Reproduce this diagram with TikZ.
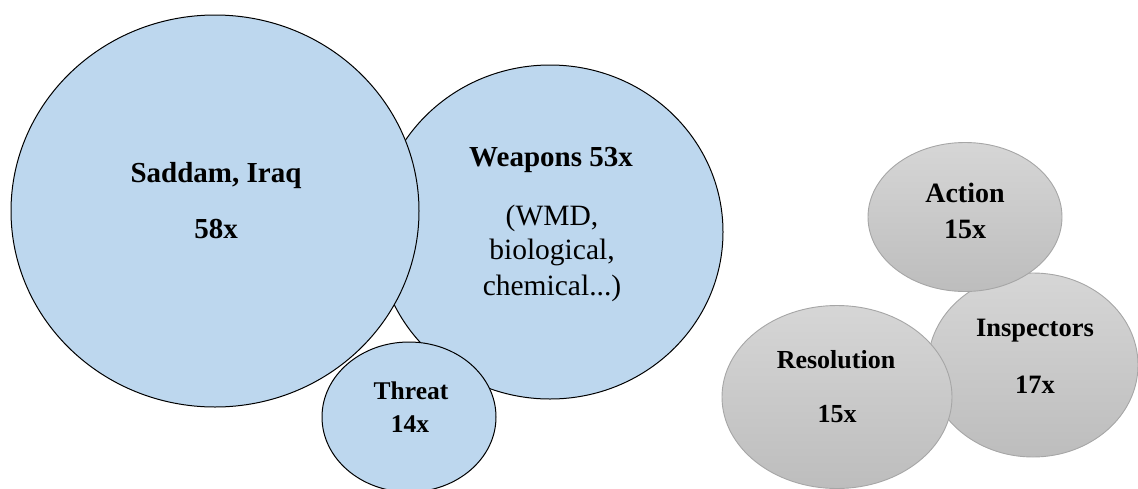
\documentclass[tikz,border=0pt]{standalone}
\usepackage{fontspec}
\setmainfont{Liberation Serif}
\usetikzlibrary{shapes.geometric}
\definecolor{bluefill}{HTML}{BDD7EE}
\definecolor{greytop}{HTML}{D6D6D6}
\definecolor{greybot}{HTML}{BDBDBD}
\definecolor{greyline}{HTML}{A6A6A6}
\tikzset{
  bluebub/.style={ellipse, draw=black, line width=1pt, fill=bluefill, inner sep=0pt},
  greybub/.style={ellipse, draw=greyline, line width=0.9pt, top color=greytop, bottom color=greybot, inner sep=0pt},
  lbl/.style={anchor=base, inner sep=0pt, font=\bfseries},
}
\begin{document}
\begin{tikzpicture}[x=1pt, y=-1pt]
\useasboundingbox (0,0) rectangle (1138,488);
\begin{scope}
\clip (0,0) rectangle (1138,488);
% blue bubbles
\node[bluebub, minimum width=346pt, minimum height=334pt] (weapons) at (550,232) {};
\node[bluebub, minimum width=408pt, minimum height=392pt] (saddam) at (215,211) {};
\node[bluebub, minimum width=174pt, minimum height=150pt] (threat) at (409,417) {};
% grey bubbles
\node[greybub, minimum width=210pt, minimum height=184pt] (inspectors) at (1033,365) {};
\node[greybub, minimum width=194pt, minimum height=149pt] (action) at (965,217) {};
\node[greybub, minimum width=230pt, minimum height=183pt] (resolution) at (837,397) {};
\end{scope}
% labels
\node[lbl, font=\fontsize{29}{34}\selectfont\bfseries] (t1) at (216,182) {Saddam, Iraq};
\node[lbl, font=\fontsize{29}{34}\selectfont\bfseries] (t2) at (216,238) {58x};
\node[lbl, font=\fontsize{29}{34}\selectfont\bfseries] (t3) at (551,166) {Weapons 53x};
\node[lbl, font=\fontsize{29.5}{34}\selectfont] (t4) at (552,225) {(WMD,};
\node[lbl, font=\fontsize{29.5}{34}\selectfont] (t5) at (552,259) {biological,};
\node[lbl, font=\fontsize{29.5}{34}\selectfont] (t6) at (552,295) {chemical...)};
\node[lbl, font=\fontsize{25.5}{30}\selectfont\bfseries] (t7) at (411,399) {Threat};
\node[lbl, font=\fontsize{25.5}{30}\selectfont\bfseries] (t8) at (410,432) {14x};
\node[lbl, font=\fontsize{28}{32}\selectfont\bfseries] (t9) at (965,202) {Action};
\node[lbl, font=\fontsize{28}{32}\selectfont\bfseries] (t10) at (965,238) {15x};
\node[lbl, font=\fontsize{26.5}{30}\selectfont\bfseries] (t11) at (1035,336) {Inspectors};
\node[lbl, font=\fontsize{26.5}{30}\selectfont\bfseries] (t12) at (1035,393) {17x};
\node[lbl, font=\fontsize{26}{30}\selectfont\bfseries] (t13) at (836,368) {Resolution};
\node[lbl, font=\fontsize{26}{30}\selectfont\bfseries] (t14) at (837,422) {15x};
\end{tikzpicture}
\end{document}
